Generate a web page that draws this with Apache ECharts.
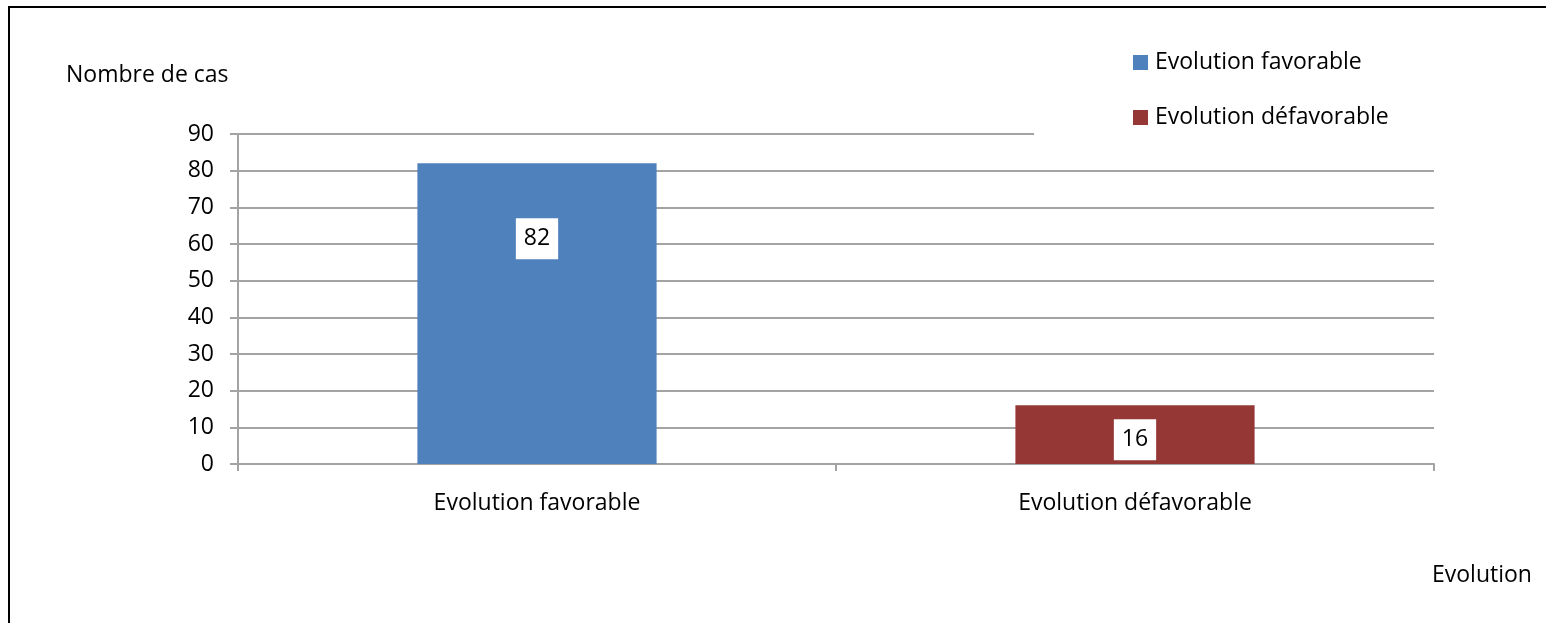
<!DOCTYPE html>
<html>
<head>
<meta charset="utf-8">
<script src="https://cdn.jsdelivr.net/npm/echarts@6/dist/echarts.min.js"></script>
<style>
  html, body { margin: 0; padding: 0; background: #fff; }
  #chart { width: 1546px; height: 623px; }
</style>
</head>
<body>
<div id="chart"></div>
<script>
// Outcome categories and case counts
const categories = ['Evolution favorable', 'Evolution défavorable'];
const seriesNames = ['Evolution favorable', 'Evolution défavorable'];
const favorableValues = [82, null];
const defavorableValues = [null, 16];
const yTicks = { min: 0, max: 90, interval: 10 };
const yAxisTitle = 'Nombre de cas';
const xAxisTitle = 'Evolution';

const FONT = '"Open Sans", "Noto Sans", sans-serif';
const FS = 23;
const GRID_GREY = '#a3a3a3';

const labelBox = {
  show: true,
  position: 'inside',
  color: '#000',
  fontFamily: FONT,
  fontSize: FS,
  lineHeight: 23,
  backgroundColor: '#fff',
  padding: [9, 8, 9, 8]
};

const chart = echarts.init(document.getElementById('chart'), null, { renderer: 'canvas' });

chart.setOption({
  animation: false,
  backgroundColor: '#fff',
  textStyle: { fontFamily: FONT, color: '#000' },
  grid: { left: 238, right: 112, top: 134, bottom: 159, containLabel: false },
  legend: {
    orient: 'vertical',
    left: 1034,
    top: 45,
    padding: [6, 60, 22, 99],
    backgroundColor: '#fff',
    itemWidth: 15,
    itemHeight: 15,
    itemGap: 32,
    icon: 'rect',
    textStyle: { fontFamily: FONT, fontSize: FS, color: '#000', padding: [0, 0, 0, 2] },
    data: seriesNames
  },
  xAxis: {
    type: 'category',
    data: categories,
    boundaryGap: true,
    axisLine: { show: true, lineStyle: { color: GRID_GREY, width: 2 } },
    axisTick: { show: true, length: 7, lineStyle: { color: GRID_GREY, width: 2 } },
    axisLabel: { color: '#000', fontFamily: FONT, fontSize: FS, margin: 28 },
    splitLine: { show: false }
  },
  yAxis: {
    type: 'value',
    min: yTicks.min,
    max: yTicks.max,
    interval: yTicks.interval,
    axisLine: { show: true, lineStyle: { color: GRID_GREY, width: 2 } },
    axisTick: { show: true, length: 8, lineStyle: { color: GRID_GREY, width: 2 } },
    axisLabel: { color: '#000', fontFamily: FONT, fontSize: FS, margin: 24 },
    splitLine: { show: true, lineStyle: { color: GRID_GREY, width: 2 } }
  },
  series: [
    {
      name: seriesNames[0],
      type: 'bar',
      data: favorableValues,
      barWidth: '40%',
      barGap: '-100%',
      itemStyle: { color: '#4f81bd' },
      label: Object.assign({}, labelBox, { offset: [0, -75] })
    },
    {
      name: seriesNames[1],
      type: 'bar',
      data: defavorableValues,
      barWidth: '40%',
      barGap: '-100%',
      itemStyle: { color: '#953735' },
      label: Object.assign({}, labelBox, { offset: [0, 5] })
    }
  ],
  graphic: [
    {
      type: 'rect',
      shape: { x: 9, y: 7, width: 1700, height: 800 },
      style: { fill: 'none', stroke: '#000', lineWidth: 2 },
      silent: true,
      z: 100
    },
    {
      type: 'text',
      left: 66,
      top: 64,
      style: { text: yAxisTitle, font: FS + 'px ' + FONT, fill: '#000' }
    },
    {
      type: 'text',
      left: 1432,
      top: 564,
      style: { text: xAxisTitle, font: FS + 'px ' + FONT, fill: '#000' }
    }
  ]
});
</script>
</body>
</html>
